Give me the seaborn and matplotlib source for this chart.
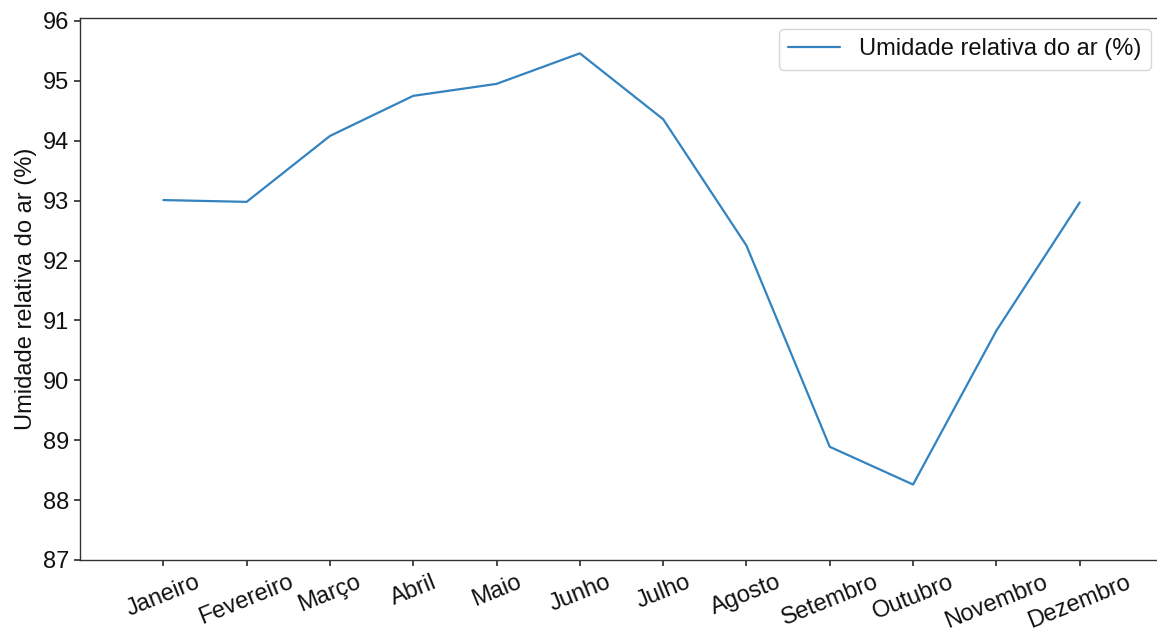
import matplotlib
matplotlib.use("Agg")
import matplotlib.pyplot as plt
import seaborn as sns
import pandas as pd

meses = ["Janeiro", "Fevereiro", "Março", "Abril", "Maio", "Junho",
         "Julho", "Agosto", "Setembro", "Outubro", "Novembro", "Dezembro"]
umidade = [93.01, 92.98, 94.08, 94.75, 94.95, 95.46,
           94.36, 92.25, 88.89, 88.26, 90.83, 92.97]
rotulo = "Umidade relativa do ar (%)"

sns.set_theme(style="ticks")
plt.rcParams["font.family"] = ["Liberation Sans", "DejaVu Sans"]
plt.rcParams["text.color"] = "#111111"
plt.rcParams["axes.labelcolor"] = "#111111"
plt.rcParams["xtick.color"] = "#333333"
plt.rcParams["ytick.color"] = "#333333"
plt.rcParams["xtick.labelcolor"] = "#111111"
plt.rcParams["ytick.labelcolor"] = "#111111"

df = pd.DataFrame({"pos": range(len(meses)), "umidade": umidade})

fig = plt.figure(figsize=(11.57, 6.34), dpi=100)
ax = fig.add_axes([80 / 1157, 1 - 560 / 634, 1083 / 1157, 542 / 634])

sns.lineplot(data=df, x="pos", y="umidade", ax=ax, color="#3283c0",
             linewidth=1.6, label=rotulo)

fs = 17
ax.set_xlim(-1, 12)
ax.set_ylim(87, 96.05)
ax.set_yticks(range(87, 97))
ax.set_xticks(range(len(meses)))
ax.set_xticklabels(meses, rotation=22, ha="center", fontsize=fs)
ax.tick_params(axis="y", labelsize=fs, length=4, pad=4)
ax.tick_params(axis="x", length=4, pad=4)
ax.set_xlabel("")
ax.set_ylabel(rotulo, fontsize=fs)
for s in ax.spines.values():
    s.set_color("#333333")
    s.set_linewidth(1.0)

ax.legend(loc="upper right", bbox_to_anchor=(1151 / 1157, 1 - 29 / 634),
          bbox_transform=fig.transFigure, fontsize=fs, frameon=True,
          handlelength=2.2, borderaxespad=0)

fig.savefig("out.png", dpi=100)
